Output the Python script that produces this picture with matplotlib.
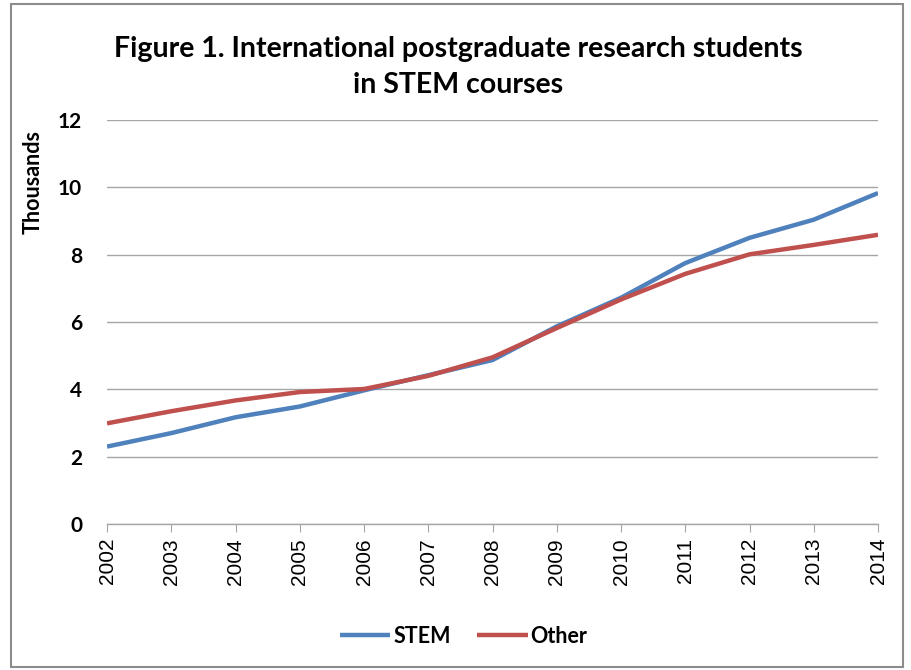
import matplotlib
matplotlib.use("Agg")
import matplotlib.pyplot as plt
from matplotlib.patches import Rectangle

years = [2002, 2003, 2004, 2005, 2006, 2007, 2008, 2009, 2010, 2011, 2012, 2013, 2014]
stem = [2.30, 2.70, 3.17, 3.49, 3.97, 4.42, 4.87, 5.87, 6.72, 7.75, 8.50, 9.04, 9.83]
other = [2.99, 3.35, 3.67, 3.92, 4.01, 4.40, 4.95, 5.82, 6.67, 7.43, 8.01, 8.29, 8.59]
yticks = [0, 2, 4, 6, 8, 10, 12]
title = "Figure 1. International postgraduate research students\nin STEM courses"

fig = plt.figure(figsize=(9.11, 6.7), dpi=100)
fig.patches.append(Rectangle((0.012, 0.004), 0.979, 0.990, transform=fig.transFigure,
                             fill=False, edgecolor="#8c8c8c", linewidth=1.5))
ax = fig.add_axes([0.1175, 0.2179, 0.8463, 0.6030])

ax.plot(years, stem, color="#4F81BD", linewidth=3.2, label="STEM", solid_capstyle="butt")
ax.plot(years, other, color="#C0504D", linewidth=3.2, label="Other", solid_capstyle="butt")

ax.set_xlim(years[0], years[-1])
ax.set_ylim(0, 12)
ax.set_yticks(yticks)
ax.set_yticklabels([str(v) for v in yticks], fontfamily="Lato", fontweight="bold", fontsize=15)
ax.set_xticks(years)
ax.set_xticklabels([str(y) for y in years], rotation=90, fontfamily="Liberation Sans", fontsize=15)
ax.grid(axis="y", color="#a6a6a6", linewidth=1.0)
ax.set_axisbelow(True)
for s in ["top", "right", "left"]:
    ax.spines[s].set_visible(False)
ax.spines["bottom"].set_color("#a6a6a6")
ax.spines["bottom"].set_linewidth(1.0)
ax.tick_params(axis="y", length=0, pad=18)
ax.tick_params(axis="x", length=6, color="#a6a6a6", pad=4)

ax.set_ylabel("Thousands", fontfamily="Lato", fontweight="bold", fontsize=15.5)
ax.yaxis.set_label_coords(-0.082, 0.847)

fig.text(0.503, 0.900, title, ha="center", va="center", fontfamily="Lato",
         fontweight="bold", fontsize=20.5, linespacing=1.45)

leg = fig.legend(loc="center", bbox_to_anchor=(0.509, 0.050), ncol=2, frameon=False,
                 prop={"family": "Lato", "weight": "bold", "size": 15.5},
                 handlelength=2.35, handletextpad=0.15, columnspacing=1.2)

fig.savefig("out.png", dpi=100)
